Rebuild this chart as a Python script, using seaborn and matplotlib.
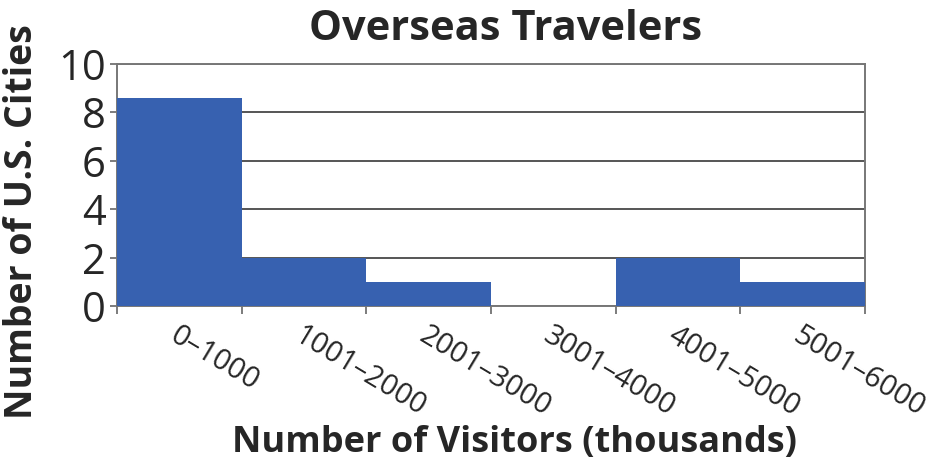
import matplotlib
matplotlib.use("Agg")
import matplotlib.pyplot as plt
import seaborn as sns
import pandas as pd

# Histogram-style counts of cities by overseas visitor range
ranges = ["0–1000", "1001–2000", "2001–3000", "3001–4000", "4001–5000", "5001–6000"]
cities = [8.6, 2, 1, 0, 2, 1]
y_ticks = [0, 2, 4, 6, 8, 10]

df = pd.DataFrame({"range": ranges, "cities": cities})

sns.set_theme(style="white")
plt.rcParams["font.family"] = ["Open Sans", "DejaVu Sans"]

fig = plt.figure(figsize=(9.46, 4.65), dpi=100)
ax = fig.add_axes([117 / 946, 1 - 306 / 465, 748 / 946, 242 / 465])

sns.barplot(data=df, x="range", y="cities", color="#3761B0", width=1.0,
            saturation=1, edgecolor="none", ax=ax, zorder=3)

ax.set_xlim(-0.5, len(ranges) - 0.5)
ax.set_ylim(0, 10)
ax.set_yticks(y_ticks)
ax.set_yticklabels([str(v) for v in y_ticks], fontsize=30)
ax.yaxis.grid(True, color="#555555", linewidth=1.4, zorder=0)
ax.set_axisbelow(True)

# bin boundaries carry the tick marks, bin centres carry the labels
bounds = [i - 0.5 for i in range(len(ranges) + 1)]
ax.set_xticks(bounds)
ax.set_xticklabels([""] * len(bounds))
ax.set_xticks(range(len(ranges)), minor=True)
ax.set_xticklabels(ranges, minor=True, rotation=-31, ha="left", va="top",
                   rotation_mode="anchor", fontsize=21)
ax.tick_params(axis="x", which="major", length=6, width=1.2, color="#666666",
               direction="out", bottom=True)
ax.tick_params(axis="x", which="minor", length=0, pad=11)
ax.tick_params(axis="y", length=5, width=1.2, color="#666666", left=True, pad=3)

for side in ["top", "right", "left", "bottom"]:
    ax.spines[side].set_visible(True)
    ax.spines[side].set_color("#777777")
    ax.spines[side].set_linewidth(1.4)

ax.set_xlabel("")
ax.set_ylabel("")
fig.text(506 / 946, 1 - 30 / 465, "Overseas Travelers", ha="center", va="center",
         fontsize=30, fontweight="bold")
fig.text(515 / 946, 1 - 443 / 465, "Number of Visitors (thousands)", ha="center",
         va="center", fontsize=26, fontweight="bold")
fig.text(22 / 946, 1 - 222 / 465, "Number of U.S. Cities", ha="center",
         va="center", rotation=90, fontsize=27, fontweight="bold")

fig.savefig("out.png", dpi=100, facecolor="white")
